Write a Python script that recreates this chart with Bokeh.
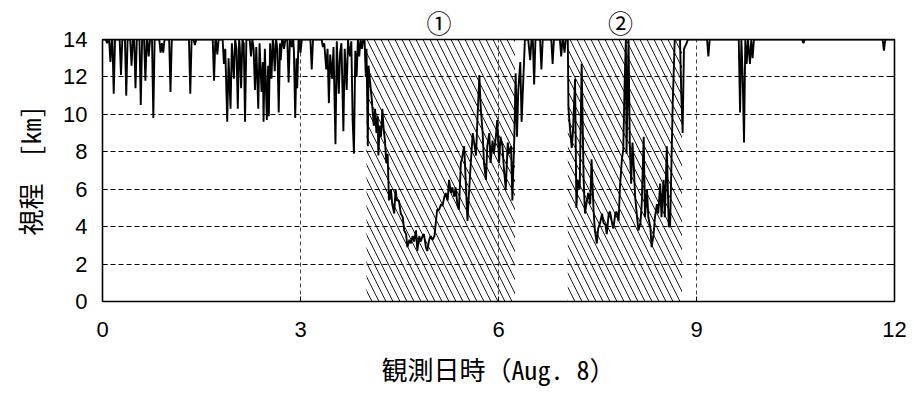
from bokeh.plotting import figure
from bokeh.models import Range1d, FixedTicker, LinearAxis
from bokeh.embed import file_html
from bokeh.resources import INLINE

# Observation time (hours, Aug. 8) and visibility (km, capped at 14)
hours = [
    0.00, 0.05, 0.07, 0.09, 0.10, 0.12, 0.14, 0.15, 0.17, 0.19, 0.26, 0.28, 0.30, 0.34, 0.36, 0.38,
    0.42, 0.44, 0.46, 0.48, 0.50, 0.52, 0.56, 0.58, 0.60, 0.63, 0.65, 0.67, 0.68, 0.70, 0.72, 0.75,
    0.77, 0.79, 0.86, 0.88, 0.90, 0.92, 0.94, 1.01, 1.03, 1.05, 1.31, 1.33, 1.35, 1.38, 1.40, 1.42,
    1.67, 1.69, 1.71, 1.72, 1.74, 1.76, 1.82, 1.84, 1.86, 1.89, 1.91, 1.94, 1.96, 1.99, 2.01, 2.03,
    2.05, 2.07, 2.08, 2.10, 2.12, 2.14, 2.16, 2.18, 2.23, 2.25, 2.27, 2.29, 2.31, 2.33, 2.36, 2.38,
    2.41, 2.43, 2.44, 2.46, 2.49, 2.51, 2.52, 2.54, 2.56, 2.58, 2.59, 2.61, 2.63, 2.65, 2.67, 2.69,
    2.70, 2.72, 2.73, 2.75, 2.77, 2.80, 2.82, 2.84, 2.85, 2.87, 2.89, 2.90, 2.92, 2.94, 2.95, 2.97,
    2.98, 3.00, 3.02, 3.15, 3.17, 3.19, 3.32, 3.34, 3.36, 3.39, 3.41, 3.43, 3.45, 3.48, 3.50, 3.53,
    3.55, 3.58, 3.60, 3.62, 3.65, 3.67, 3.70, 3.72, 3.73, 3.75, 3.77, 3.79, 3.81, 3.83, 3.85, 3.87,
    3.89, 3.91, 3.93, 3.95, 3.97, 3.99, 4.00, 4.02, 4.03, 4.05, 4.08, 4.11, 4.13, 4.15, 4.17, 4.18,
    4.20, 4.22, 4.24, 4.26, 4.28, 4.30, 4.32, 4.34, 4.37, 4.39, 4.42, 4.44, 4.46, 4.49, 4.52, 4.55,
    4.57, 4.60, 4.62, 4.65, 4.67, 4.70, 4.72, 4.75, 4.77, 4.80, 4.82, 4.85, 4.87, 4.90, 4.92, 4.95,
    4.97, 5.00, 5.03, 5.07, 5.10, 5.13, 5.15, 5.18, 5.20, 5.23, 5.25, 5.28, 5.30, 5.33, 5.35, 5.38,
    5.40, 5.43, 5.45, 5.48, 5.50, 5.53, 5.55, 5.58, 5.61, 5.63, 5.66, 5.68, 5.71, 5.73, 5.76, 5.78,
    5.81, 5.83, 5.86, 5.88, 5.91, 5.93, 5.96, 5.98, 6.01, 6.03, 6.06, 6.08, 6.11, 6.14, 6.16, 6.19,
    6.21, 6.24, 6.26, 6.28, 6.30, 6.33, 6.35, 6.38, 6.40, 6.45, 6.48, 6.50, 6.52, 6.54, 6.56, 6.63,
    6.65, 6.67, 6.80, 6.82, 6.84, 6.93, 6.95, 6.97, 6.98, 7.00, 7.02, 7.05, 7.06, 7.08, 7.11, 7.13,
    7.16, 7.18, 7.20, 7.23, 7.26, 7.29, 7.31, 7.34, 7.36, 7.39, 7.41, 7.44, 7.46, 7.49, 7.51, 7.54,
    7.57, 7.59, 7.62, 7.64, 7.67, 7.69, 7.72, 7.74, 7.77, 7.79, 7.82, 7.84, 7.87, 7.89, 7.91, 7.93,
    7.94, 7.97, 7.99, 8.01, 8.03, 8.05, 8.07, 8.10, 8.12, 8.15, 8.17, 8.20, 8.22, 8.25, 8.27, 8.30,
    8.32, 8.35, 8.37, 8.40, 8.42, 8.45, 8.47, 8.50, 8.52, 8.55, 8.58, 8.60, 8.64, 8.67, 8.71, 8.75,
    8.77, 8.79, 8.81, 8.85, 8.87, 9.16, 9.18, 9.20, 9.64, 9.66, 9.68, 9.70, 9.72, 9.74, 9.76, 9.78,
    9.81, 9.83, 9.85, 9.87, 10.60, 10.62, 10.64, 11.82, 11.84, 11.86, 12.00,
]
visibility_km = [
    14, 14, 13.8, 14, 14, 12.8, 14, 14, 11.1, 14, 14, 12.1, 14, 14, 11.0, 14,
    14, 12.6, 14, 14, 11.4, 14, 14, 10.5, 14, 14, 11.8, 14, 14, 13.1, 14, 14,
    9.8, 14, 14, 13.3, 13.8, 13.3, 14, 14, 11.2, 14, 14, 11.1, 14, 14, 13.7, 14,
    14, 11.8, 14, 14, 13.2, 14, 14, 12.7, 13.5, 9.6, 13.0, 10.3, 13.8, 11.9, 14, 13.5,
    10.3, 14, 13.6, 11.4, 14, 13.8, 9.6, 14, 14, 13.1, 14, 13.5, 11.3, 13.6, 10.3, 13.8,
    11.2, 12.8, 9.6, 13.5, 9.7, 12.6, 9.9, 13.8, 11.9, 14, 13.8, 12.3, 14, 13.5, 10.1, 13.8,
    12.9, 14, 14, 13.5, 14, 14, 11.7, 14, 14, 13.6, 14, 13.4, 9.8, 13.0, 11.4, 14,
    14, 13.3, 14, 14, 12.4, 14, 14, 13.6, 13.8, 12.4, 13.5, 10.6, 13.2, 11.9, 13.6, 8.4,
    13.9, 11.1, 13.3, 13.8, 9.1, 13.5, 11.3, 14, 13.6, 13.1, 13.9, 9.7, 7.9, 13.4, 12.0, 14,
    13.1, 14, 13.5, 14, 14, 12.0, 13.5, 8.3, 12.6, 11.9, 10.8, 9.4, 10.3, 9.0, 9.9, 7.8,
    9.4, 8.8, 10.3, 9.2, 8.6, 7.4, 7.9, 5.4, 6.0, 5.2, 4.7, 6.0, 5.4, 5.4, 4.7, 4.5,
    3.8, 3.6, 2.9, 3.3, 3.1, 3.5, 3.2, 3.8, 2.7, 3.5, 3.2, 3.5, 3.6, 2.9, 2.7, 3.3,
    3.5, 3.3, 3.5, 4.9, 4.9, 5.2, 5.1, 5.6, 5.8, 5.4, 6.5, 5.8, 6.1, 5.6, 6.1, 5.1,
    4.9, 7.4, 7.7, 8.3, 6.7, 4.3, 5.6, 7.4, 9.0, 8.5, 7.8, 9.7, 12.1, 10.4, 9.0, 7.4,
    6.5, 8.3, 9.0, 7.4, 8.6, 7.9, 8.8, 9.7, 7.4, 8.8, 8.3, 7.2, 6.0, 8.5, 7.9, 8.3,
    5.4, 8.8, 12.2, 8.8, 11.3, 12.8, 9.6, 12.2, 14, 14, 12.9, 14, 14, 11.6, 14, 14,
    12.4, 14, 14, 12.7, 14, 14, 13.1, 14, 14, 13.3, 14, 14, 10.3, 9.4, 8.2, 9.2,
    11.9, 5.0, 6.5, 6.0, 12.7, 6.5, 4.7, 5.4, 5.8, 5.2, 7.6, 4.9, 3.8, 3.1, 3.9, 4.2,
    4.7, 4.2, 4.1, 3.6, 4.7, 4.8, 4.2, 3.9, 4.7, 4.8, 4.3, 6.1, 7.6, 8.1, 11.5, 14,
    7.9, 14, 8.3, 6.3, 8.5, 7.2, 5.6, 4.5, 3.8, 4.2, 5.2, 8.8, 4.5, 6.0, 4.5, 4.0,
    2.9, 3.6, 4.5, 5.2, 4.7, 6.3, 4.5, 6.5, 4.5, 8.3, 4.0, 4.0, 10.6, 14, 14, 14,
    11.0, 9.0, 13.5, 13.8, 14, 14, 13.1, 14, 14, 10.1, 14, 12.0, 8.5, 14, 12.7, 14,
    12.7, 14, 13.0, 14, 14, 13.8, 14, 14, 13.4, 14, 14,
]

# Shaded low-visibility episodes and their markers
episode_start = [4.0, 7.05]
episode_end = [6.25, 8.78]
episode_label_x = [5.1, 7.85]
episode_labels = ["①", "②"]

x_ticks = [0, 3, 6, 9, 12]
y_ticks = [0, 2, 4, 6, 8, 10, 12, 14]

label_font = "Noto Sans Mono CJK JP, Noto Sans CJK JP"
tick_font = "Liberation Sans"

p = figure(width=914, height=394, output_backend="svg", toolbar_location=None,
           x_range=Range1d(0, 12), y_range=Range1d(0, 14),
           min_border_left=102, min_border_right=20, min_border_top=39, min_border_bottom=93)
p.background_fill_color = "white"
p.border_fill_color = "white"
p.outline_line_color = "black"
p.outline_line_width = 1.6

# Hatched episodes
p.quad(left=episode_start, right=episode_end, bottom=0, top=14,
       fill_alpha=0, line_alpha=0, hatch_pattern="left_diagonal_line",
       hatch_color="black", hatch_scale=14, hatch_weight=0.9)

# Visibility trace
p.line(hours, visibility_km, line_color="black", line_width=1.9)

xa = p.xaxis[0]
xa.ticker = FixedTicker(ticks=x_ticks)
xa.axis_label = "観測日時（Aug. 8）"
ya = p.yaxis[0]
ya.ticker = FixedTicker(ticks=y_ticks)
ya.axis_label = "視程　[km]"
for ax in (xa, ya):
    ax.axis_line_color = None
    ax.major_tick_in = 5
    ax.major_tick_out = 0
    ax.minor_tick_line_color = None
    ax.major_tick_line_color = "black"
    ax.major_label_text_font = tick_font
    ax.major_label_text_font_size = "22px"
    ax.major_label_text_color = "black"
    ax.axis_label_text_font = label_font
    ax.axis_label_text_font_size = "26px"
    ax.axis_label_text_font_style = "normal"
    ax.axis_label_text_color = "black"
xa.major_label_standoff = 20
xa.axis_label_standoff = 10
ya.major_label_standoff = 15
ya.axis_label_standoff = 12

# Tick marks on the right edge, unlabeled
ra = LinearAxis(ticker=FixedTicker(ticks=y_ticks),
                major_label_overrides={t: "" for t in y_ticks},
                major_tick_in=5, major_tick_out=0, minor_tick_line_color=None,
                axis_line_color=None, major_label_standoff=0)
p.add_layout(ra, "right")

# Episode markers above the frame
ta = LinearAxis(ticker=FixedTicker(ticks=episode_label_x),
                major_label_overrides={x: s for x, s in zip(episode_label_x, episode_labels)},
                major_tick_in=0, major_tick_out=0, minor_tick_line_color=None,
                axis_line_color=None, major_label_standoff=0,
                major_label_text_font="Noto Sans CJK JP", major_label_text_font_size="25px",
                major_label_text_color="black")
p.add_layout(ta, "above")

p.xgrid.ticker = FixedTicker(ticks=[3, 6, 9])
p.ygrid.ticker = FixedTicker(ticks=[2, 4, 6, 8, 10, 12])
p.xgrid.grid_line_color = "#444444"
p.ygrid.grid_line_color = "black"
p.xgrid.grid_line_dash = "4 3"
p.ygrid.grid_line_dash = "5 3"
p.xgrid.grid_line_width = 1
p.ygrid.grid_line_width = 1
p.grid.level = "underlay"

open("out.html", "w").write(file_html(p, INLINE))
